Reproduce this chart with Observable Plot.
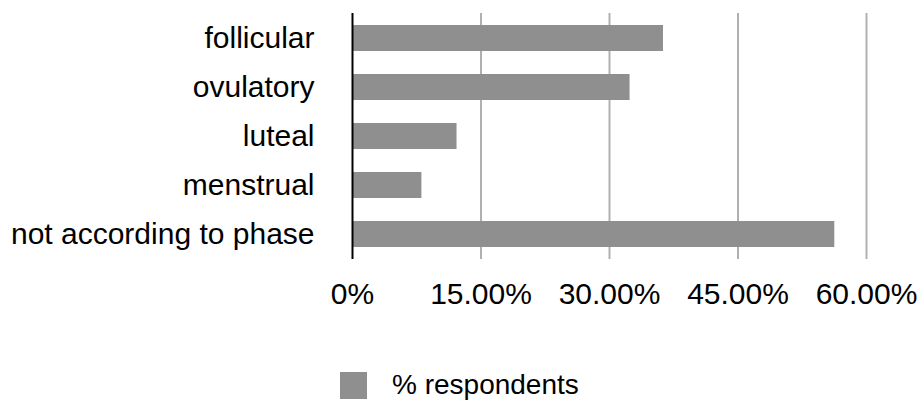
<!DOCTYPE html>
<html>
<head>
<meta charset="utf-8">
<script src="https://cdn.jsdelivr.net/npm/d3@7"></script>
<script src="https://cdn.jsdelivr.net/npm/@observablehq/plot@0.6"></script>
<style>
  html, body { margin: 0; padding: 0; background: #fff; }
  body { width: 920px; height: 402px; position: relative; overflow: hidden;
         font-family: "Liberation Sans", Arial, Helvetica, sans-serif; color: #000; }
  #legend { position: absolute; left: 340px; top: 371px; display: flex; align-items: center; font-size: 28px; line-height: 28px; }
  #legend .sw { width: 27px; height: 27px; background: #8f8f8f; margin-right: 25px; }
</style>
</head>
<body>
<div id="chart"></div>
<div id="legend"><div class="sw"></div><span>% respondents</span></div>
<script>
const categories = ["follicular", "ovulatory", "luteal", "menstrual", "not according to phase"];
const respondents = [36.3, 32.4, 12.2, 8.1, 56.3];
const xTicks = [0, 15, 30, 45, 60];
const xTickLabels = ["0%", "15.00%", "30.00%", "45.00%", "60.00%"];
const seriesName = "% respondents";

const data = categories.map((c, i) => ({category: c, value: respondents[i]}));

const chart = Plot.plot({
  width: 920,
  height: 330,
  marginLeft: 352,
  marginRight: 54,
  marginTop: 13,
  marginBottom: 71,
  style: {fontFamily: '"Liberation Sans", Arial, Helvetica, sans-serif', color: "#000", background: "#fff"},
  x: {domain: [0, 60]},
  y: {domain: categories, paddingInner: 0.46, paddingOuter: 0.23},
  marks: [
    Plot.gridX(xTicks.filter(d => d > 0), {stroke: "#b0b0b0", strokeWidth: 2, strokeOpacity: 1}),
    Plot.barX(data, {x: "value", y: "category", fill: "#8f8f8f"}),
    Plot.ruleX([0], {stroke: "#000", strokeWidth: 2}),
    Plot.axisY({tickSize: 0, tickPadding: 38, fontSize: 30, label: null}),
    Plot.axisX({ticks: xTicks, tickFormat: d => xTickLabels[xTicks.indexOf(d)], tickSize: 0, tickPadding: 23, fontSize: 30, label: null})
  ]
});
document.getElementById("chart").appendChild(chart);
document.querySelector("#legend span").textContent = seriesName;
</script>
</body>
</html>
